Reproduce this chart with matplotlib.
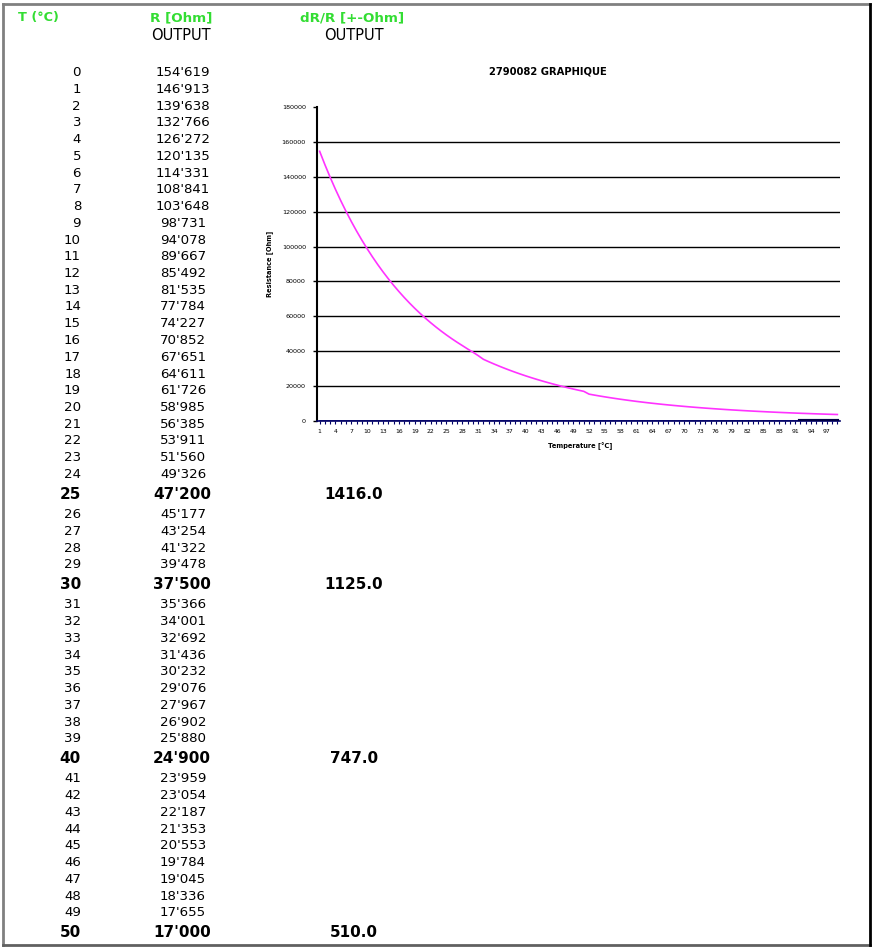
import matplotlib
matplotlib.use("Agg")
import matplotlib.pyplot as plt
from matplotlib.lines import Line2D

plt.rcParams["font.family"] = ["DejaVu Sans"]

# table data (read from the sheet)
temps = list(range(0, 51))
resist = [
    154619, 146913, 139638, 132766, 126272, 120135, 114331, 108841, 103648, 98731,
    94078, 89667, 85492, 81535, 77784, 74227, 70852, 67651, 64611, 61726,
    58985, 56385, 53911, 51560, 49326, 47200, 45177, 43254, 41322, 39478,
    37500, 35366, 34001, 32692, 31436, 30232, 29076, 27967, 26902, 25880,
    24900, 23959, 23054, 22187, 21353, 20553, 19784, 19045, 18336, 17655,
    17000,
]
bold_temps = [25, 30, 40, 50]
dr_values = {25: 1416.0, 30: 1125.0, 40: 747.0, 50: 510.0}

# curve beyond the table (estimated from the graph, T = 51..98)
resist_tail = [
    15400, 14850, 14330, 13830, 13350, 12890, 12450, 12030, 11620, 11230,
    10860, 10500, 10160, 9830, 9510, 9210, 8920, 8640, 8370, 8110,
    7860, 7620, 7390, 7170, 6960, 6750, 6550, 6360, 6180, 6000,
    5830, 5670, 5510, 5360, 5210, 5070, 4930, 4800, 4670, 4550,
    4430, 4320, 4210, 4100, 4000, 3900, 3810, 3720,
]
curve = resist + resist_tail
categories = list(range(1, len(curve) + 1))
dr_series = [0] * len(curve)
y_ticks = [0, 20000, 40000, 60000, 80000, 100000, 120000, 140000, 160000, 180000]

W, H = 872, 947
fig = plt.figure(figsize=(W / 100, H / 100), dpi=100)


def fx(px):
    return px / W


def fy(py):
    return 1 - py / H


# page frame
fig.add_artist(Line2D([fx(3), fx(870)], [fy(4), fy(4)], color="#808080", lw=2))
fig.add_artist(Line2D([fx(3), fx(3)], [fy(4), fy(945)], color="#808080", lw=2))
fig.add_artist(Line2D([fx(3), fx(870)], [fy(945), fy(945)], color="#606060", lw=2))
fig.add_artist(Line2D([fx(870), fx(870)], [fy(4), fy(945)], color="black", lw=2))

green = "#33dd33"
fig.text(fx(18), fy(18), "T (°C)", color=green, fontsize=9.2, fontweight="bold", va="center")
fig.text(fx(181), fy(18), "R [Ohm]", color=green, fontsize=9.7, fontweight="bold", ha="center", va="center")
fig.text(fx(181), fy(35), "OUTPUT", color="black", fontsize=10.5, ha="center", va="center")
fig.text(fx(352), fy(18), "dR/R [+-Ohm]", color=green, fontsize=9.7, fontweight="bold", ha="center", va="center")
fig.text(fx(354), fy(35), "OUTPUT", color="black", fontsize=10.5, ha="center", va="center")

# table rows
y = 72.5
prev_bold = False
for i, (t, r) in enumerate(zip(temps, resist)):
    is_bold = t in bold_temps
    if i > 0:
        y += 20.0 if (is_bold or prev_bold) else 16.75
    txt_r = f"{r:,}".replace(",", "'")
    if is_bold:
        fig.text(fx(81), fy(y), str(t), fontsize=11, fontweight="bold", ha="right", va="center")
        fig.text(fx(182), fy(y), txt_r, fontsize=11, fontweight="bold", ha="center", va="center")
        fig.text(fx(354), fy(y), f"{dr_values[t]:.1f}", fontsize=11, fontweight="bold", ha="center", va="center")
    else:
        fig.text(fx(81), fy(y), str(t), fontsize=9.6, ha="right", va="center")
        fig.text(fx(183), fy(y), txt_r, fontsize=9.6, ha="center", va="center")
    prev_bold = is_bold

# embedded graph
ax = fig.add_axes([fx(317), fy(421), fx(840) - fx(317), fy(107) - fy(421)])
ax.plot(categories, curve, color="#ff33ff", lw=1.2, zorder=3)
ax.plot(categories, dr_series, color="#000066", lw=1.2, zorder=4)
ax.plot(categories[91:], dr_series[91:], color="#000044", lw=3, zorder=4)
ax.set_xlim(0.5, len(curve) + 0.5)
ax.set_ylim(0, 180000)
ax.set_yticks(y_ticks)
ax.set_yticklabels([str(v) for v in y_ticks], fontsize=4.6)
for v in y_ticks[1:-1]:
    ax.axhline(v, color="black", lw=1.0, zorder=1)
ax.set_xticks(categories[::3])
ax.set_xticklabels([str(c) for c in categories[::3]], fontsize=4.4)
ax.set_xticks(categories, minor=True)
ax.tick_params(axis="x", which="both", length=2, width=0.8, color="#000066", pad=4)
ax.tick_params(axis="y", length=3, width=1, pad=5)
for s in ["top", "right"]:
    ax.spines[s].set_visible(False)
ax.spines["left"].set_linewidth(1.5)
ax.spines["bottom"].set_linewidth(1.2)
ax.spines["bottom"].set_color("#000066")
ax.set_ylabel("Resistance [Ohm]", fontsize=4.8, fontweight="bold", labelpad=6)
fig.text(fx(580), fy(446), "Temperature [°C]", fontsize=4.8, fontweight="bold", ha="center", va="center")
fig.text(fx(548), fy(71), "2790082 GRAPHIQUE", fontsize=7.2, fontweight="bold", ha="center", va="center")

fig.savefig("out.png", dpi=100)
